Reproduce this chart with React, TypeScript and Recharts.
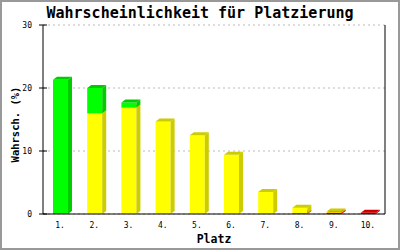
import { Bar, BarChart, CartesianGrid, XAxis, YAxis } from "recharts";

const MONO = "'DejaVu Sans Mono', monospace";

const places = ["1.", "2.", "3.", "4.", "5.", "6.", "7.", "8.", "9.", "10."];
const redValues = [0, 0, 0, 0, 0, 0, 0, 0.1, 0.2, 0.2];
const yellowValues = [0, 16.0, 16.9, 14.7, 12.5, 9.4, 3.5, 0.9, 0.2, 0];
const greenValues = [21.3, 4.0, 0.8, 0, 0, 0, 0, 0, 0, 0];
const yTicks = [0, 10, 20, 30];

const data = places.map((platz, i) => ({
  platz,
  red: redValues[i],
  yellow: yellowValues[i],
  green: greenValues[i],
}));

const DX = 4;
const DY = 3;

function bar3d(dark: string) {
  return (props: any) => {
    const { x, y, width, height, fill } = props;
    if (!height || height <= 0) return <g />;
    return (
      <g>
        <rect x={x} y={y} width={width} height={height} fill={fill} />
        <polygon
          points={`${x + width},${y} ${x + width + DX},${y - DY} ${x + width + DX},${y + height - DY} ${x + width},${y + height}`}
          fill={dark}
        />
        <polygon
          points={`${x},${y} ${x + DX},${y - DY} ${x + width + DX},${y - DY} ${x + width},${y}`}
          fill={dark}
        />
      </g>
    );
  };
}

function YTick(props: any) {
  const { x, y, payload } = props;
  return (
    <g>
      <line x1={x + 7} x2={x + 15} y1={y} y2={y} stroke="#000" />
      <text x={x} y={y} dy={3} textAnchor="end" fontSize={8} fontFamily={MONO} fill="#000">
        {payload.value}
      </text>
    </g>
  );
}

function XTick(props: any) {
  const { x, y, payload } = props;
  return (
    <text x={x} y={y} dy={6} textAnchor="middle" fontSize={8} fontFamily={MONO} fill="#000">
      {payload.value}
    </text>
  );
}

export default function App() {
  return (
    <div style={{ position: "absolute", left: 0, top: 0, width: 400, height: 250, background: "#fff" }}>
      <BarChart
        width={400}
        height={250}
        data={data}
        margin={{ top: 25, right: 0, bottom: 0, left: 0 }}
      >
        <CartesianGrid vertical={false} stroke="#bbb" strokeDasharray="2 3" />
        <XAxis
          dataKey="platz"
          height={36}
          tickLine={false}
          axisLine={{ stroke: "#000" }}
          tick={<XTick />}
          interval={0}
          label={(p: any) => (
            <text
              x={p.viewBox.x + p.viewBox.width / 2}
              y={243}
              textAnchor="middle"
              fontSize={11.5}
              fontWeight="bold"
              fontFamily={MONO}
              fill="#000"
            >
              Platz
            </text>
          )}
        />
        <YAxis
          domain={[0, 30]}
          ticks={yTicks}
          width={43}
          tickSize={4}
          tickMargin={7}
          tickLine={false}
          axisLine={{ stroke: "#000" }}
          tick={<YTick />}
          label={(p: any) => {
            const cy = p.viewBox.y + p.viewBox.height / 2 + 5;
            return (
              <text
                x={19}
                y={cy}
                transform={`rotate(-90, 19, ${cy})`}
                textAnchor="middle"
                fontSize={10.5}
                fontWeight="bold"
                fontFamily={MONO}
                fill="#000"
              >
                Wahrsch. (%)
              </text>
            );
          }}
        />
        <YAxis
          yAxisId="right"
          orientation="right"
          domain={[0, 30]}
          width={15}
          tick={false}
          tickLine={false}
          axisLine={{ stroke: "#000" }}
        />
        <Bar dataKey="red" stackId="a" fill="#ff0000" barSize={15} shape={bar3d("#cc0000")} isAnimationActive={false} />
        <Bar dataKey="yellow" stackId="a" fill="#ffff00" barSize={15} shape={bar3d("#cccc00")} isAnimationActive={false} />
        <Bar dataKey="green" stackId="a" fill="#00ff00" barSize={15} shape={bar3d("#00cc00")} isAnimationActive={false} />
        <text
          x={200}
          y={18}
          textAnchor="middle"
          fontSize={15}
          fontWeight="bold"
          fontFamily={MONO}
          fill="#000"
        >
          Wahrscheinlichkeit für Platzierung
        </text>
      </BarChart>
      <div
        style={{
          position: "absolute",
          inset: 0,
          border: "2px solid #999",
          boxSizing: "border-box",
          pointerEvents: "none",
        }}
      />
    </div>
  );
}
